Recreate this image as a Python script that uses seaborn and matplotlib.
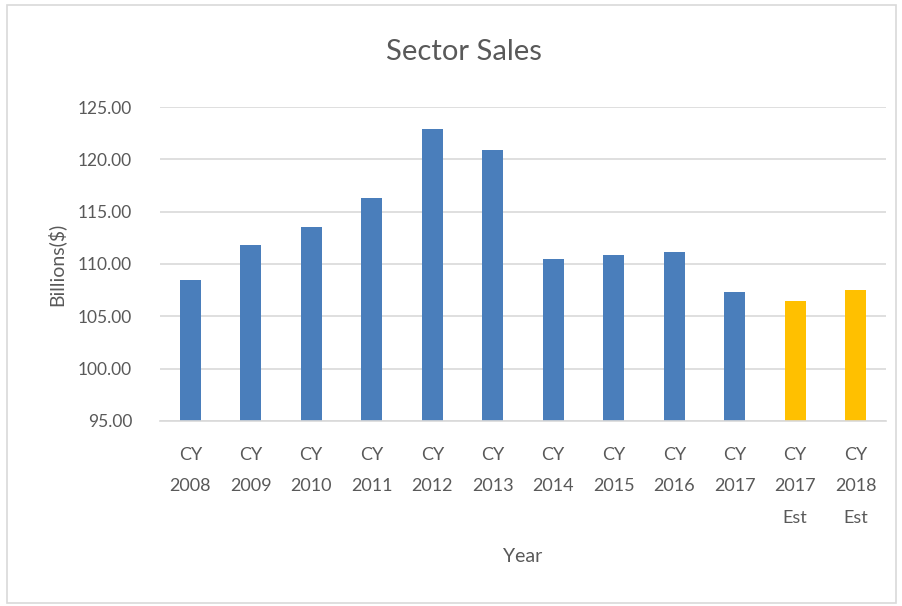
import matplotlib
matplotlib.use("Agg")
import matplotlib.pyplot as plt
import seaborn as sns
import pandas as pd
from matplotlib.patches import Rectangle

categories = ["CY\n2008", "CY\n2009", "CY\n2010", "CY\n2011", "CY\n2012", "CY\n2013",
              "CY\n2014", "CY\n2015", "CY\n2016", "CY\n2017", "CY\n2017\nEst", "CY\n2018\nEst"]
sales = [108.5, 111.8, 113.5, 116.3, 122.9, 120.9, 110.5, 110.9, 111.1, 107.3, 106.5, 107.5]
is_estimate = [False] * 10 + [True] * 2
y_ticks = [95, 100, 105, 110, 115, 120, 125]

BLUE = "#4A7EBB"
GOLD = "#FFC000"
TEXT = "#595959"
GRID = "#D9D9D9"

sns.set_theme(style="white")
plt.rcParams["font.family"] = ["Lato", "DejaVu Sans"]

df = pd.DataFrame({"Year": categories, "Sales": sales,
                   "kind": ["Est" if e else "Actual" for e in is_estimate]})

fig = plt.figure(figsize=(9.02, 6.06), dpi=100)
ax = fig.add_axes([160 / 902, 1 - 421 / 606, 726 / 902, 314 / 606])

palette = {c: (GOLD if e else BLUE) for c, e in zip(categories, is_estimate)}
sns.barplot(data=df, x="Year", y="Sales", hue="Year", palette=palette,
            width=0.34, legend=False, ax=ax, saturation=1, linewidth=0)

ax.set_ylim(95, 125)
ax.set_xlim(-0.5, len(categories) - 0.5)
ax.set_yticks(y_ticks)
ax.set_yticklabels([f"{v:.2f}" for v in y_ticks], color=TEXT, fontsize=12.5)
ax.set_xticks(range(len(categories)))
ax.set_xticklabels(categories, color=TEXT, fontsize=13, linespacing=2.2)
ax.tick_params(axis="y", length=0, pad=20)
ax.tick_params(axis="x", length=0, pad=18.5)
ax.yaxis.grid(True, color=GRID, linewidth=1.2)
ax.set_axisbelow(True)
for s in ["top", "right", "left"]:
    ax.spines[s].set_visible(False)
ax.spines["bottom"].set_color(GRID)
ax.spines["bottom"].set_linewidth(1.2)

ax.set_xlabel("Year", color=TEXT, fontsize=14, labelpad=16)
ax.set_ylabel("Billions($)", color=TEXT, fontsize=14, labelpad=10)
ax.yaxis.set_label_coords(-(160 - 65) / 726, 0.5)

fig.text(464 / 902, 1 - 52 / 606, "Sector Sales", ha="center", va="center",
         fontsize=21, color=TEXT)

fig.patches.append(Rectangle((7 / 902, 3 / 606), 889 / 902, 598 / 606,
                             transform=fig.transFigure, fill=False,
                             edgecolor="#D9D9D9", linewidth=1.2))

fig.savefig("out.png", dpi=100)
